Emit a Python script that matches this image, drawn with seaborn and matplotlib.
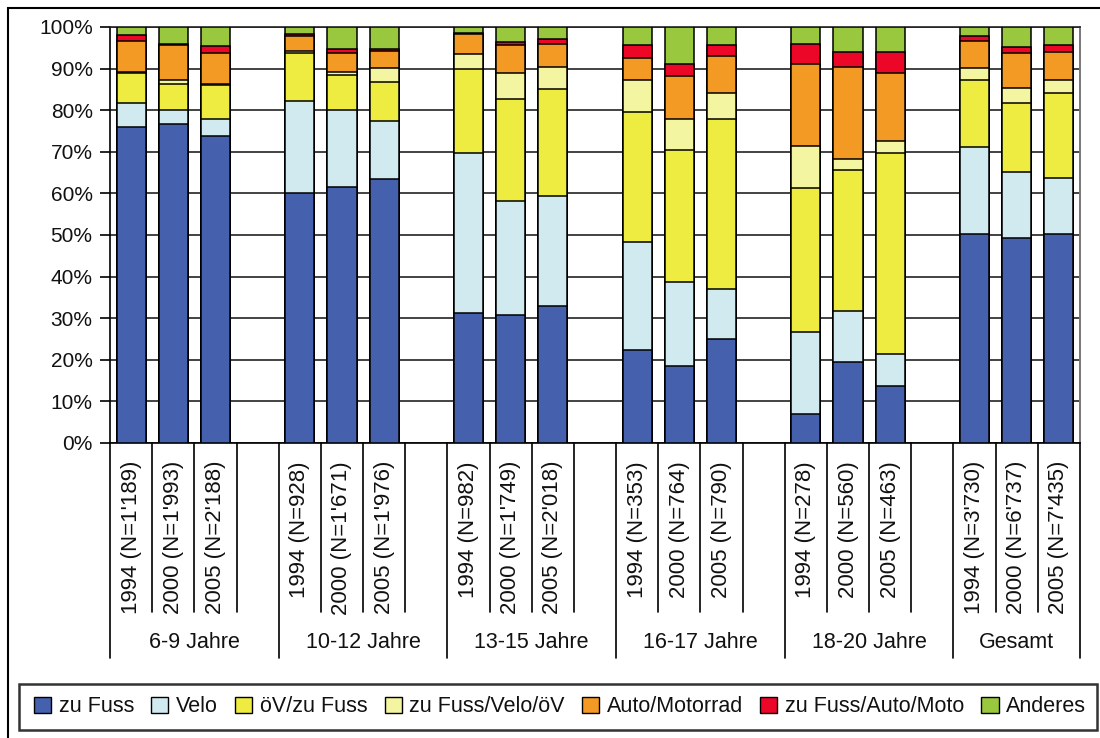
import matplotlib
matplotlib.use("Agg")
import matplotlib.pyplot as plt
import seaborn as sns
import pandas as pd
import numpy as np
from matplotlib.patches import Rectangle, Patch
from matplotlib.transforms import blended_transform_factory

# ---------------- data ----------------
groups = ["6-9 Jahre", "10-12 Jahre", "13-15 Jahre", "16-17 Jahre", "18-20 Jahre", "Gesamt"]
bar_labels = [
    "1994 (N=1'189)", "2000 (N=1'993)", "2005 (N=2'188)",
    "1994 (N=928)", "2000 (N=1'671)", "2005 (N=1'976)",
    "1994 (N=982)", "2000 (N=1'749)", "2005 (N=2'018)",
    "1994 (N=353)", "2000 (N=764)", "2005 (N=790)",
    "1994 (N=278)", "2000 (N=560)", "2005 (N=463)",
    "1994 (N=3'730)", "2000 (N=6'737)", "2005 (N=7'435)",
]
series_names = ["zu Fuss", "Velo", "öV/zu Fuss", "zu Fuss/Velo/öV",
                "Auto/Motorrad", "zu Fuss/Auto/Moto", "Anderes"]

zu_fuss = [76.0, 76.6, 73.8, 60.2, 61.6, 63.4, 31.2, 30.8, 33.0, 22.4, 18.4, 25.0, 7.0, 19.4, 13.6, 50.2, 49.2, 50.2]
velo = [5.8, 3.4, 4.2, 22.0, 18.4, 14.0, 38.4, 27.4, 26.4, 26.0, 20.2, 12.0, 19.8, 12.4, 7.8, 21.0, 16.0, 13.6]
oev_fuss = [7.2, 6.4, 8.0, 11.6, 8.4, 9.4, 20.2, 24.6, 25.6, 31.2, 31.8, 41.0, 34.4, 33.8, 48.2, 16.0, 16.6, 20.4]
fuss_velo_oev = [0.2, 0.8, 0.4, 0.5, 0.9, 3.4, 3.6, 6.2, 5.4, 7.6, 7.6, 6.2, 10.2, 2.6, 3.0, 3.0, 3.6, 3.0]
auto_motorrad = [7.4, 8.4, 7.4, 3.5, 4.5, 4.0, 4.8, 6.6, 5.6, 5.4, 10.2, 8.8, 19.8, 22.2, 16.4, 6.4, 8.4, 6.8]
fuss_auto_moto = [1.4, 0.4, 1.6, 0.4, 0.8, 0.5, 0.3, 0.8, 1.0, 3.0, 3.0, 2.6, 4.8, 3.6, 5.0, 1.2, 1.3, 1.6]
anderes = [2.0, 4.0, 4.6, 1.8, 5.4, 5.3, 1.5, 3.6, 3.0, 4.4, 8.8, 4.4, 4.0, 6.0, 6.0, 2.2, 4.9, 4.4]

y_ticks = [0, 10, 20, 30, 40, 50, 60, 70, 80, 90, 100]

colors = ["#4561AE", "#D0EAF0", "#EEEC40", "#F4F5A0", "#F39A25", "#EC0628", "#99C83E"]

# ---------------- layout ----------------
W, H = 1100, 738
sns.set_theme(style="white")
plt.rcParams["font.family"] = ["Liberation Sans", "DejaVu Sans"]

fig = plt.figure(figsize=(W / 100, H / 100), dpi=100)
ax = fig.add_axes([110 / W, 1 - 443 / H, 970 / W, 416 / H])

n_per_group = 3
pos = [g * 4 + i for g in range(len(groups)) for i in range(n_per_group)]

all_series = [zu_fuss, velo, oev_fuss, fuss_velo_oev, auto_motorrad, fuss_auto_moto, anderes]
cum = np.cumsum(np.array(all_series, dtype=float), axis=0)

# draw stacked bars: cumulative totals, topmost first
for k in reversed(range(len(all_series))):
    d = pd.DataFrame({"pos": pos, "val": cum[k]})
    sns.barplot(data=d, x="pos", y="val", native_scale=True, color=colors[k],
                saturation=1, edgecolor="black", linewidth=1.1, width=0.69,
                errorbar=None, ax=ax, zorder=3)

ax.set_xlim(-0.5, 22.5)
ax.set_ylim(0, 100)
ax.set_xticks([])
ax.set_xlabel("")
ax.set_ylabel("")
ax.set_yticks(y_ticks)
ax.set_yticklabels([f"{t}%" for t in y_ticks])
ax.yaxis.grid(True, color="#222222", lw=1.2, zorder=0)
ax.set_axisbelow(True)
ax.tick_params(axis="y", left=True, length=7.5, width=1.2, color="black",
               direction="out", labelsize=15, pad=5, labelcolor="#111111")

for s in ["left", "bottom"]:
    ax.spines[s].set_visible(True)
    ax.spines[s].set_color("black")
    ax.spines[s].set_linewidth(1.2)
ax.spines["top"].set_visible(True)
ax.spines["top"].set_color("#222222")
ax.spines["top"].set_linewidth(1.2)
ax.spines["right"].set_visible(True)
ax.spines["right"].set_color("#777777")
ax.spines["right"].set_linewidth(1.4)

# ---------------- multi-level category axis ----------------
trans = blended_transform_factory(ax.transData, fig.transFigure)
y_axis = 1 - 443 / H
y_short = 1 - 612 / H
y_long = 1 - 658 / H
n_slots = 23
for i in range(n_slots + 1):
    x = i - 0.5
    long_line = (i % 4 == 0) or (i == n_slots)
    ax.plot([x, x], [y_axis, y_long if long_line else y_short], transform=trans,
            color="black", lw=1.2, clip_on=False, zorder=5)

for p, lab in zip(pos, bar_labels):
    ax.text(p, 1 - 461 / H, lab, transform=trans, rotation=90, ha="center",
            va="top", fontsize=16, color="#111111")

for g, name in enumerate(groups):
    start = g * 4 - 0.5
    end = min(g * 4 + 3.5, n_slots - 0.5)
    ax.text((start + end) / 2, 1 - 643 / H, name, transform=trans, ha="center",
            va="center", fontsize=15.5, color="#111111")

# ---------------- legend ----------------
handles = [Patch(facecolor=c, edgecolor="black", lw=1.0) for c in colors]
fig.legend(handles, series_names, loc="center", bbox_to_anchor=(560 / W, 1 - 707 / H),
           ncol=7, frameon=False, fontsize=15.5, handlelength=0.8, handleheight=0.8,
           handletextpad=0.35, columnspacing=0.8, labelcolor="#111111")
fig.add_artist(Rectangle((19 / W, 1 - 730 / H), (1097 - 19) / W, 46 / H,
                         transform=fig.transFigure, fill=False, edgecolor="#333333", lw=1.8))

# outer frame
fig.add_artist(Rectangle((8 / W, -0.05), 1.2, 1 - 8 / H + 0.05, transform=fig.transFigure,
                         fill=False, edgecolor="black", lw=1.5, clip_on=False))

fig.savefig("out.png", dpi=100)
